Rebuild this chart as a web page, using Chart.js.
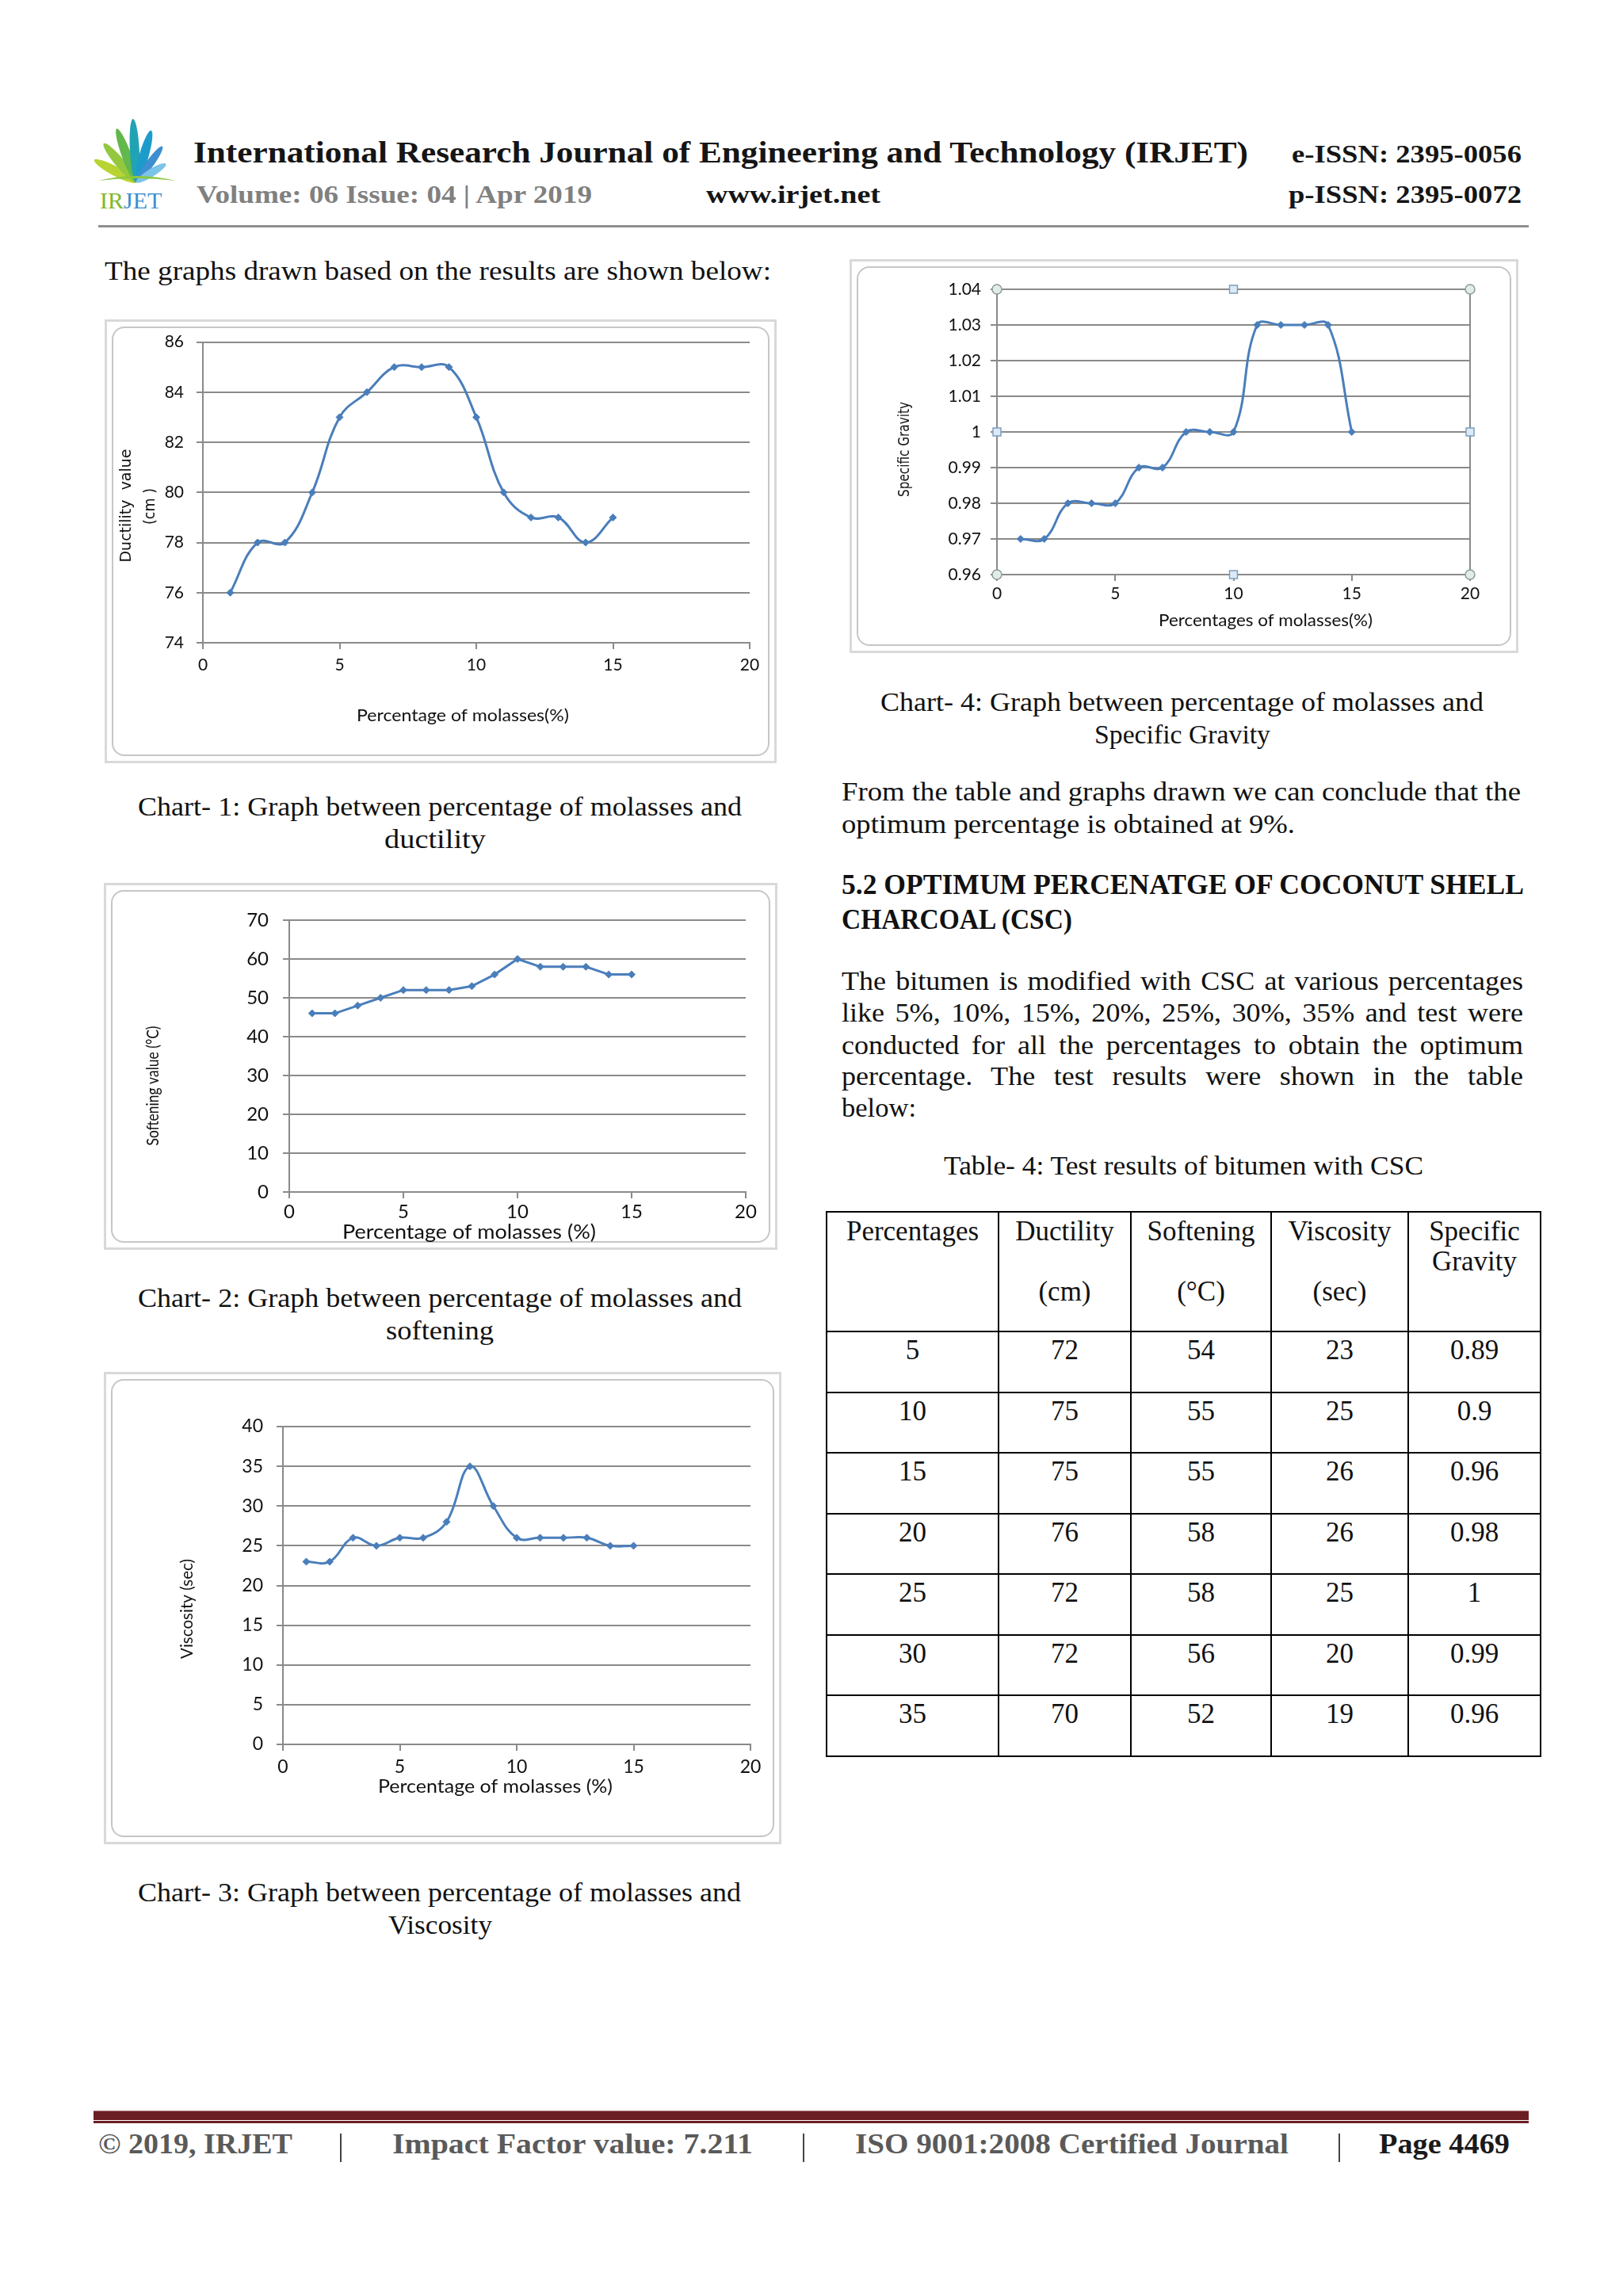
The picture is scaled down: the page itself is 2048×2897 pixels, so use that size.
<!DOCTYPE html>
<html>
<head>
<meta charset="utf-8">
<title>IRJET - molasses charts</title>
<script src="https://cdn.jsdelivr.net/npm/chart.js@4.4.0/dist/chart.umd.min.js"></script>
<style>
  body { margin: 0; background: #fff; }
  #page { position: relative; width: 2048px; height: 2897px; background: #fff; overflow: hidden; }
  .ln { position: absolute; white-space: nowrap; transform-origin: 0 0; font-family: "Liberation Serif", "DejaVu Serif", serif; }
  .frame { position: absolute; box-sizing: border-box; border: 3px solid #d9d9d9; background: #fff; }
  .frame .inner { position: absolute; left: 6px; top: 6px; right: 6px; bottom: 6px; border: 2px solid #c6c6c6; border-radius: 16px; }
  canvas { position: absolute; }
  .rule { position: absolute; }
  #csc { position: absolute; left: 1042px; top: 1528px; width: 901px; border-collapse: collapse; table-layout: fixed;
         font-family: "Liberation Serif", serif; font-size: 35px; color: #111; }
  #csc td { border: 2px solid #000; text-align: center; vertical-align: top; padding: 4px 0 0 0; line-height: 38px; height: 70.5px; }
  #csc tr.head td { height: 144px; padding-top: 5px; }
</style>
</head>
<body>
<div id="page">
  <!-- logo -->
  <svg style="position:absolute;left:112px;top:146px" width="122" height="124" viewBox="0 0 122 124">
    <g transform="translate(60,84)">
      <ellipse cx="0" cy="-30" rx="6" ry="30" fill="#b7d433" transform="rotate(-62)"/>
      <ellipse cx="0" cy="-32" rx="6" ry="32" fill="#93c83e" transform="rotate(-40)"/>
      <ellipse cx="0" cy="-36" rx="6" ry="36" fill="#62b84a" transform="rotate(-20)"/>
      <ellipse cx="0" cy="-40" rx="6" ry="40" fill="#22a3b3" transform="rotate(-3)"/>
      <ellipse cx="0" cy="-34" rx="6" ry="34" fill="#1d9ccc" transform="rotate(16)"/>
      <ellipse cx="0" cy="-28" rx="5" ry="28" fill="#3d8fd0" transform="rotate(36)"/>
      <ellipse cx="0" cy="-22" rx="5" ry="22" fill="#7cc3e8" transform="rotate(58)"/>
      <path d="M-48 -2 Q0 -14 50 -2 Q0 -8 -48 -2 Z" fill="#8cc63f"/>
    </g>
    <text x="14" y="117" font-family="Liberation Serif" font-size="30"><tspan fill="#7fb82c">IR</tspan><tspan fill="#3a8fd0">JET</tspan></text>
  </svg>

  <div class="rule" style="left:124px;top:284px;width:1805px;height:3px;background:#8f8f8f"></div>

  <div class="frame" style="left:132px;top:403px;width:848px;height:560px"><div class="inner"></div></div>
  <canvas id="chartDuctility" width="848" height="560" style="left:132px;top:403px"></canvas>

  <div class="frame" style="left:131px;top:1114px;width:850px;height:463px"><div class="inner"></div></div>
  <canvas id="chartSoftening" width="850" height="463" style="left:131px;top:1114px"></canvas>

  <div class="frame" style="left:131px;top:1731px;width:855px;height:596px"><div class="inner"></div></div>
  <canvas id="chartViscosity" width="855" height="596" style="left:131px;top:1731px"></canvas>

  <div class="frame" style="left:1072px;top:327px;width:844px;height:497px"><div class="inner"></div></div>
  <canvas id="chartGravity" width="844" height="497" style="left:1072px;top:327px"></canvas>

  <table id="csc"></table>

  <div class="rule" style="left:118px;top:2663px;width:1811px;height:11px;background:#6b1f25;border-top:1px solid #b07a7a"></div>
  <div class="rule" style="left:118px;top:2676px;width:1811px;height:3px;background:#6b1f25"></div>
  <div class="rule" style="left:429px;top:2692px;width:2px;height:36px;background:#444"></div>
  <div class="rule" style="left:1013px;top:2692px;width:2px;height:36px;background:#444"></div>
  <div class="rule" style="left:1689px;top:2692px;width:2px;height:36px;background:#444"></div>
</div>

<script>
// ---- chart data ----
const molassesPct = [1, 2, 3, 4, 5, 6, 7, 8, 9, 10, 11, 12, 13, 14, 15];
const ductility = [76, 78, 78, 80, 83, 84, 85, 85, 85, 83, 80, 79, 79, 78, 79];
const softening = [46, 46, 48, 50, 52, 52, 52, 53, 56, 60, 58, 58, 58, 56, 56];
const viscosity = [23, 23, 26, 25, 26, 26, 28, 35, 30, 26, 26, 26, 26, 25, 25];
const specificGravity = [0.97, 0.97, 0.98, 0.98, 0.98, 0.99, 0.99, 1.0, 1.0, 1.0, 1.03, 1.03, 1.03, 1.03, 1.0];

const xTicks = [0, 5, 10, 15, 20];
const ductilityTicks = [74, 76, 78, 80, 82, 84, 86];
const softeningTicks = [0, 10, 20, 30, 40, 50, 60, 70];
const viscosityTicks = [0, 5, 10, 15, 20, 25, 30, 35, 40];
const gravityTicks = [0.96, 0.97, 0.98, 0.99, 1.0, 1.01, 1.02, 1.03, 1.04];

// ---- table 4 (CSC) ----
const cscHeader = ["Percentages", "Ductility<br><br>(cm)", "Softening<br><br>(°C)", "Viscosity<br><br>(sec)", "Specific<br>Gravity"];
const cscPercent = [5, 10, 15, 20, 25, 30, 35];
const cscDuctility = [72, 75, 75, 76, 72, 72, 70];
const cscSoftening = [54, 55, 55, 58, 58, 56, 52];
const cscViscosity = [23, 25, 26, 26, 25, 20, 19];
const cscGravity = ["0.89", "0.9", "0.96", "0.98", "1", "0.99", "0.96"];

const LINE_BLUE = "#4a7ebb";
const GRID = "#8a8a8a";

// text lines of the page: x1..x2 span, b = baseline, s = font size
const textLines = [
  { t: "International Research Journal of Engineering and Technology (IRJET)", x1: 244, x2: 1575, b: 205, s: 38, w: 700, c: "#151515", hdr: true },
  { t: "e-ISSN: 2395-0056", x1: 1630, x2: 1920, b: 205, s: 32, w: 700, c: "#151515", hdr: true },
  { t: "Volume: 06 Issue: 04 | Apr 2019", x1: 248, x2: 747, b: 256, s: 32, w: 700, c: "#808080", hdr: true },
  { t: "www.irjet.net", x1: 891, x2: 1111, b: 256, s: 32, w: 700, c: "#151515", hdr: true },
  { t: "p-ISSN: 2395-0072", x1: 1626, x2: 1920, b: 256, s: 32, w: 700, c: "#151515", hdr: true },

  { t: "The graphs drawn based on the results are shown below:", x1: 132, x2: 973, b: 353, s: 34 },
  { t: "Chart- 1: Graph between percentage of molasses and", x1: 174, x2: 936, b: 1029, s: 34 },
  { t: "ductility", x1: 485, x2: 613, b: 1070, s: 34 },
  { t: "Chart- 2: Graph between percentage of molasses and", x1: 174, x2: 936, b: 1649, s: 34 },
  { t: "softening", x1: 487, x2: 623, b: 1690, s: 34 },
  { t: "Chart- 3: Graph between percentage of molasses and", x1: 174, x2: 935, b: 2399, s: 34 },
  { t: "Viscosity", x1: 490, x2: 621, b: 2440, s: 34 },

  { t: "Chart- 4: Graph between percentage of molasses and", x1: 1111, x2: 1872, b: 897, s: 34 },
  { t: "Specific Gravity", x1: 1381, x2: 1603, b: 938, s: 34 },
  { t: "From the table and graphs drawn we can conclude that the", x1: 1062, x2: 1919, b: 1010, s: 34 },
  { t: "optimum percentage is obtained at 9%.", x1: 1062, x2: 1634, b: 1051, s: 34 },
  { t: "5.2 OPTIMUM PERCENATGE OF COCONUT SHELL", x1: 1062, x2: 1923, b: 1128, s: 35, w: 700, j: true },
  { t: "CHARCOAL (CSC)", x1: 1062, x2: 1353, b: 1172, s: 35, w: 700 },
  { t: "The bitumen is modified with CSC at various percentages", x1: 1062, x2: 1922, b: 1249, s: 34, j: true },
  { t: "like 5%, 10%, 15%, 20%, 25%, 30%, 35% and test were", x1: 1062, x2: 1922, b: 1289, s: 34, j: true },
  { t: "conducted for all the percentages to obtain the optimum", x1: 1062, x2: 1922, b: 1330, s: 34, j: true },
  { t: "percentage. The test results were shown in the table", x1: 1062, x2: 1922, b: 1369, s: 34, j: true },
  { t: "below:", x1: 1062, x2: 1156, b: 1409, s: 34 },
  { t: "Table- 4: Test results of bitumen with CSC", x1: 1191, x2: 1796, b: 1482, s: 34 },

  { t: "© 2019, IRJET", x1: 124, x2: 369, b: 2717, s: 36, w: 700, c: "#5a5a5a", hdr: true },
  { t: "Impact Factor value: 7.211", x1: 495, x2: 950, b: 2717, s: 36, w: 700, c: "#5a5a5a", hdr: true },
  { t: "ISO 9001:2008 Certified Journal", x1: 1079, x2: 1626, b: 2717, s: 36, w: 700, c: "#5a5a5a", hdr: true },
  { t: "Page 4469", x1: 1740, x2: 1905, b: 2717, s: 36, w: 700, c: "#1a1a1a", hdr: true },
];

function placeLines() {
  const page = document.getElementById("page");
  const items = textLines.map((l) => {
    const el = document.createElement("div");
    el.className = "ln";
    el.textContent = l.t;
    el.style.left = l.x1 + "px";
    el.style.top = l.b - 0.8375 * l.s + "px";
    el.style.fontSize = l.s + "px";
    el.style.lineHeight = l.s + "px";
    el.style.fontWeight = l.w || 400;
    el.style.color = l.c || "#111";
    page.appendChild(el);
    return { l, el, w: el.getBoundingClientRect().width };
  });

  // typical horizontal stretch of the body font against the reference
  const ratios = items.filter((it) => !it.l.j && !it.l.hdr && !it.l.w).map((it) => (it.l.x2 - it.l.x1) / it.w).sort();
  const k = ratios[Math.floor(ratios.length / 2)] || 1;

  items.forEach(({ l, el, w }) => {
    const target = l.x2 - l.x1;
    if (l.j && w * k < target) {
      el.style.whiteSpace = "normal";
      el.style.width = target / k + "px";
      el.style.textAlign = "justify";
      el.style.textAlignLast = "justify";
      el.style.transform = `scaleX(${k})`;
    } else {
      el.style.transform = `scaleX(${target / w})`;
    }
  });
}

function buildTable() {
  const table = document.getElementById("csc");
  const widths = [217, 167, 177, 173, 167];
  let html = "<colgroup>" + widths.map((w) => `<col style="width:${w}px">`).join("") + "</colgroup>";
  html += '<tr class="head">' + cscHeader.map((h) => `<td>${h}</td>`).join("") + "</tr>";
  cscPercent.forEach((p, i) => {
    html += `<tr><td>${p}</td><td>${cscDuctility[i]}</td><td>${cscSoftening[i]}</td><td>${cscViscosity[i]}</td><td>${cscGravity[i]}</td></tr>`;
  });
  table.innerHTML = html;
}

// axis titles, placed like the Excel originals (canvas coords, optional fit width)
const axisTitles = {
  id: "axisTitles",
  afterDraw(chart, args, opts) {
    const ctx = chart.ctx;
    (opts.items || []).forEach((t) => {
      ctx.save();
      ctx.font = `${t.size}px ${t.family || "Lato"}`;
      ctx.fillStyle = "#111";
      ctx.textAlign = "center";
      ctx.textBaseline = "middle";
      ctx.translate(t.x, t.y);
      if (t.rotate) ctx.rotate(-Math.PI / 2);
      if (t.w) ctx.scale(t.w / ctx.measureText(t.text).width, 1);
      ctx.fillText(t.text, 0, 0);
      ctx.restore();
    });
  },
};

// selected plot area on chart 4: border with sizing handles
const plotSelection = {
  id: "plotSelection",
  afterDraw(chart) {
    const { left, right, top, bottom } = chart.chartArea;
    const ctx = chart.ctx;
    const midX = (left + right) / 2;
    const midY = chart.scales.y.getPixelForValue(1.0);
    ctx.save();
    ctx.strokeStyle = GRID;
    ctx.lineWidth = 2;
    ctx.strokeRect(left, top, right - left, bottom - top);
    ctx.lineWidth = 1.5;
    [[left, top], [right, top], [left, bottom], [right, bottom]].forEach(([x, y]) => {
      ctx.beginPath();
      ctx.arc(x, y, 6, 0, Math.PI * 2);
      ctx.fillStyle = "#e2ece6";
      ctx.strokeStyle = "#8d9c98";
      ctx.fill();
      ctx.stroke();
    });
    [[midX, top], [midX, bottom], [left, midY], [right, midY]].forEach(([x, y]) => {
      ctx.fillStyle = "#dceaf6";
      ctx.strokeStyle = "#7e9fbd";
      ctx.fillRect(x - 5, y - 5, 10, 10);
      ctx.strokeRect(x - 5, y - 5, 10, 10);
    });
    ctx.restore();
  },
};

function buildChart(id, cfg) {
  const canvas = document.getElementById(id);
  const yTicks = cfg.yTicks;
  return new Chart(canvas.getContext("2d"), {
    type: "line",
    data: {
      datasets: [
        {
          data: molassesPct.map((x, i) => ({ x, y: cfg.values[i] })),
          borderColor: LINE_BLUE,
          backgroundColor: LINE_BLUE,
          borderWidth: 3,
          pointStyle: "rectRot",
          pointRadius: 4.5,
          pointBorderWidth: 1,
          pointBackgroundColor: LINE_BLUE,
          tension: cfg.tension,
          fill: false,
        },
      ],
    },
    options: {
      responsive: false,
      animation: false,
      devicePixelRatio: 1,
      layout: { padding: cfg.padding },
      plugins: {
        legend: { display: false },
        tooltip: { enabled: false },
        axisTitles: { items: cfg.titles },
      },
      scales: {
        x: {
          type: "linear",
          min: xTicks[0],
          max: xTicks[xTicks.length - 1],
          afterBuildTicks: (s) => { s.ticks = xTicks.map((v) => ({ value: v })); },
          afterFit: (s) => { s.height = cfg.xH; },
          grid: { drawOnChartArea: false, drawTicks: true, tickLength: 8, color: GRID, lineWidth: 2 },
          border: { display: true, color: GRID, width: 2 },
          ticks: { font: { family: "Lato", size: cfg.tickSize }, color: "#111", padding: cfg.xPad, maxRotation: 0 },
        },
        y: {
          min: yTicks[0],
          max: yTicks[yTicks.length - 1],
          afterBuildTicks: (s) => { s.ticks = yTicks.map((v) => ({ value: v })); },
          afterFit: (s) => { s.width = cfg.yW; },
          grid: { color: GRID, lineWidth: 2, tickLength: 8 },
          border: { display: true, color: GRID, width: 2 },
          ticks: {
            font: { family: "Lato", size: cfg.tickSize },
            color: "#111",
            padding: cfg.yPad,
            callback: (v) => String(+v.toFixed(2)),
          },
        },
      },
    },
    plugins: [axisTitles].concat(cfg.extra || []),
  });
}

const setup = {
  initCharts: function () {
    buildChart("chartDuctility", {
      values: ductility,
      yTicks: ductilityTicks,
      tension: 0.4,
      padding: { left: 0, right: 34, top: 25, bottom: 0 },
      yW: 124,
      xH: 152,
      tickSize: 21,
      xPad: 8,
      yPad: 16,
      titles: [
        { text: "Ductility  value", x: 28, y: 235, rotate: true, size: 20, w: 143, family: "DejaVu Sans" },
        { text: "(cm )", x: 58, y: 236, rotate: true, size: 20, w: 46, family: "DejaVu Sans" },
        { text: "Percentage of molasses(%)", x: 452, y: 500, size: 22, w: 268 },
      ],
    });

    buildChart("chartSoftening", {
      values: softening,
      yTicks: softeningTicks,
      tension: 0,
      padding: { left: 0, right: 40, top: 47, bottom: 0 },
      yW: 234,
      xH: 73,
      tickSize: 24,
      xPad: 3,
      yPad: 18,
      titles: [
        { text: "Softening value (°C)", x: 62, y: 256, rotate: true, size: 21, w: 151 },
        { text: "Percentage of molasses (%)", x: 461, y: 441, size: 25, w: 320 },
      ],
    });

    buildChart("chartViscosity", {
      values: viscosity,
      yTicks: viscosityTicks,
      tension: 0.4,
      padding: { left: 0, right: 39, top: 69, bottom: 0 },
      yW: 226,
      xH: 126,
      tickSize: 23,
      xPad: 7,
      yPad: 17,
      titles: [
        { text: "Viscosity (sec)", x: 105, y: 299, rotate: true, size: 21, w: 126 },
        { text: "Percentage of molasses (%)", x: 494, y: 523, size: 24, w: 296 },
      ],
    });

    buildChart("chartGravity", {
      values: specificGravity,
      yTicks: gravityTicks,
      tension: 0.4,
      padding: { left: 0, right: 61, top: 38, bottom: 0 },
      yW: 186,
      xH: 99,
      tickSize: 21,
      xPad: 4,
      yPad: 12,
      titles: [
        { text: "Specific Gravity", x: 70, y: 240, rotate: true, size: 19, w: 120, family: "DejaVu Sans" },
        { text: "Percentages of molasses(%)", x: 525, y: 456, size: 22, w: 270 },
      ],
      extra: [plotSelection],
    });
  },

  init: function () {
    buildTable();
    placeLines();
    this.initCharts();
  },
};

setup.init();
</script>
</body>
</html>
